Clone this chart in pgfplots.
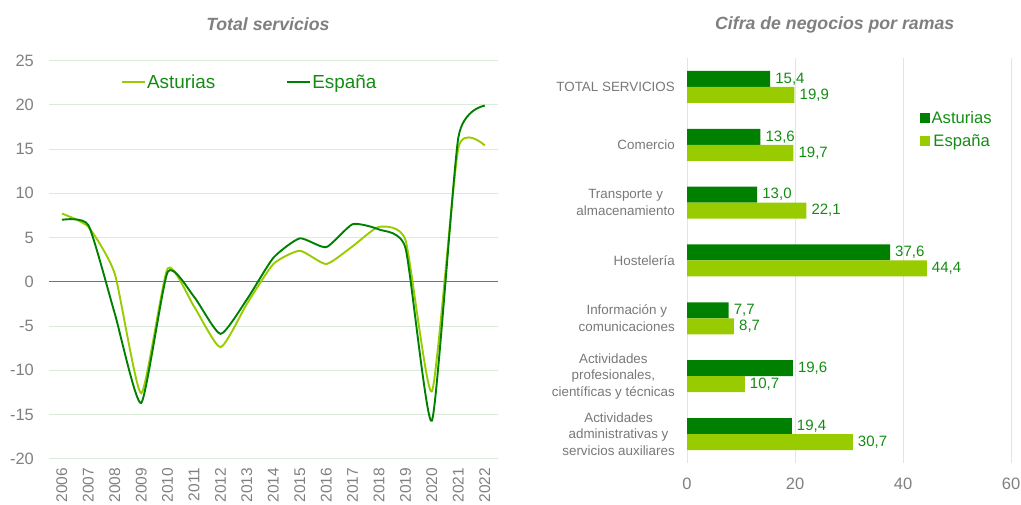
\documentclass[border=0pt]{standalone}
\usepackage{pgfplots}
\pgfplotsset{compat=1.18}
\usepackage{fontspec}
\setmainfont{Liberation Sans}
\definecolor{lightg}{RGB}{153,204,0}
\definecolor{darkg}{RGB}{0,128,0}
\definecolor{txtg}{RGB}{20,140,20}
\definecolor{tickc}{RGB}{128,128,128}
\definecolor{catc}{RGB}{120,120,120}
\definecolor{gridc}{RGB}{219,235,219}
\definecolor{zeroc}{RGB}{50,160,50}
\definecolor{titc}{RGB}{127,127,127}
\begin{document}
\begin{tikzpicture}
\path[use as bounding box] (0pt,0pt) rectangle (1021pt,505pt);
% titles
\node[anchor=base, text=titc, font=\fontsize{17.7}{20}\selectfont\bfseries\itshape, inner sep=0pt] at (267.9pt,474pt) {Total servicios};
\node[anchor=base, text=titc, font=\fontsize{17.7}{20}\selectfont\bfseries\itshape, inner sep=0pt] at (834.7pt,475pt) {Cifra de negocios por ramas};
% left chart
\begin{axis}[
  at={(48.7pt,46.3pt)}, anchor=south west, scale only axis,
  width=449.3pt, height=398.2pt,
  xmin=2005.5, xmax=2022.5, ymin=-20, ymax=25,
  axis line style={draw=none}, major tick length=0pt,
  ytick={-20,-15,-10,-5,0,5,10,15,20,25},
  yticklabels={-20,-15,-10,-5,0,5,10,15,20,25},
  xtick={2006,...,2022},
  xticklabels={2006,2007,2008,2009,2010,2011,2012,2013,2014,2015,2016,2017,2018,2019,2020,2021,2022},
  ymajorgrids, grid style={gridc, line width=0.9pt},
  yticklabel style={font=\fontsize{16.4}{18}\selectfont, text=tickc, inner sep=0pt, anchor=east, xshift=-14.7pt},
  xticklabel style={font=\fontsize{15.5}{17}\selectfont, text=tickc, inner sep=0pt, yshift=-9pt, rotate=90, anchor=east},
  legend style={at={(0.161,0.945)}, anchor=west, draw=none, fill=none, inner sep=0pt,
    legend columns=2, font=\fontsize{18.9}{21}\selectfont, text=txtg,
    nodes={inner sep=1pt},
    /tikz/every even column/.append style={column sep=70pt}},
  legend image code/.code={\draw[#1] (0pt,0pt) -- (23pt,0pt);},
]
\addplot[color=zeroc, line width=1.3pt, forget plot] coordinates {(2005.5,0) (2022.5,0)};
\addplot[lightg, line width=1.9pt, smooth, tension=0.33] coordinates {
(2006,7.7) (2007,6.2) (2008,0.9) (2009,-12.6) (2010,1.5) (2011,-2.8) (2012,-7.4) (2013,-2.5) (2014,2.0) (2015,3.5) (2016,2.0) (2017,4.0) (2018,6.2) (2019,4.7) (2020,-12.4) (2021,15.1) (2022,15.4)};
\addlegendentry{Asturias}
\addplot[darkg, line width=1.9pt, smooth, tension=0.33] coordinates {
(2006,7.0) (2007,6.4) (2008,-3.6) (2009,-13.7) (2010,1.1) (2011,-1.7) (2012,-5.9) (2013,-2.0) (2014,2.7) (2015,4.9) (2016,3.9) (2017,6.5) (2018,5.9) (2019,3.8) (2020,-15.7) (2021,16.3) (2022,19.9)};
\addlegendentry{España}
\end{axis}
% right chart
\begin{axis}[
  at={(687pt,42pt)}, anchor=south west, scale only axis,
  width=324pt, height=405pt,
  xmin=0, xmax=60, ymin=-0.5, ymax=6.5,
  xbar, bar width=16pt,
  axis line style={draw=none}, major tick length=0pt,
  xtick={0,20,40,60}, xticklabels={0,20,40,60},
  xmajorgrids, grid style={gridc, line width=0.9pt},
  ytick={0,1,2,3,4,5,6},
  yticklabels={{Actividades\\administrativas y\\servicios auxiliares},{Actividades\\profesionales,\\científicas y técnicas},{Información y\\comunicaciones},{Hostelería},{Transporte y\\almacenamiento},{Comercio},{TOTAL SERVICIOS}},
  yticklabel style={font=\fontsize{13.4}{16.6}\selectfont, text=catc, align=center, inner sep=0pt, anchor=east, xshift=-12pt},
  xticklabel style={font=\fontsize{16.5}{18}\selectfont, text=tickc, inner sep=0pt, anchor=north, yshift=-15pt},
  nodes near coords,
  every node near coord/.append style={font=\fontsize{15}{17}\selectfont, text=txtg, anchor=west, inner sep=0pt, xshift=5pt},
  /pgf/number format/.cd, fixed, fixed zerofill, precision=1, use comma, assume math mode=true,
  /pgfplots/.cd,
  legend style={at={(0.719,0.8235)}, anchor=west, draw=none, fill=none, inner sep=0pt,
    font=\fontsize{16.6}{18}\selectfont, text=txtg, row sep=7pt,
    nodes={inner sep=1.5pt}},
]
\addplot[fill=darkg, draw=none, bar shift=8pt,
  legend image code/.code={\fill[darkg] (0pt,-5pt) rectangle (10pt,5pt);}] coordinates {
(15.4,6) (13.6,5) (13.0,4) (37.6,3) (7.7,2) (19.6,1) (19.4,0)};
\addlegendentry{Asturias}
\addplot[fill=lightg, draw=none, bar shift=-8pt,
  legend image code/.code={\fill[lightg] (0pt,-5pt) rectangle (10pt,5pt);}] coordinates {
(19.9,6) (19.7,5) (22.1,4) (44.4,3) (8.7,2) (10.7,1) (30.7,0)};
\addlegendentry{España}
\end{axis}
\end{tikzpicture}
\end{document}
